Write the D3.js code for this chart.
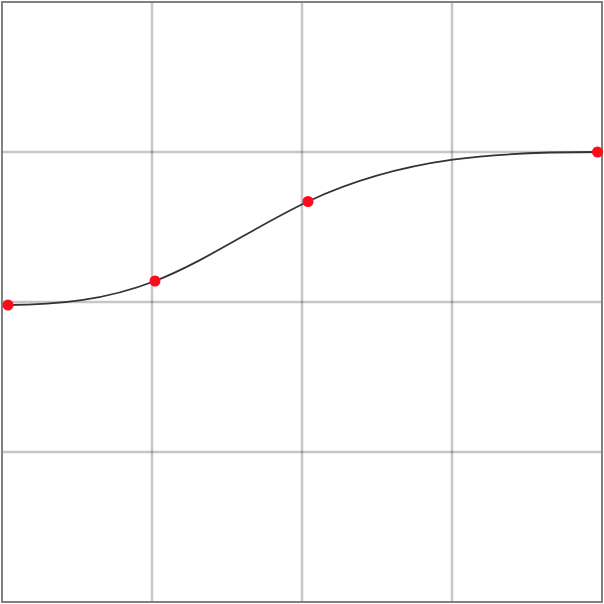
<!DOCTYPE html>
<html>
<head>
<meta charset="utf-8">
<script src="https://cdn.jsdelivr.net/npm/d3@7"></script>
<style>
  html, body { margin: 0; padding: 0; background: #fff; }
  svg { display: block; }
</style>
</head>
<body>
<script>
// Data
const xValues = [0.04, 1.02, 2.04, 3.97];
const yValues = [1.98, 2.14, 2.67, 3.0];
const gridTicks = [1, 2, 3];

const W = 604, H = 604;
const svg = d3.select("body").append("svg").attr("width", W).attr("height", H);

const x = d3.scaleLinear().domain([0, 4]).range([2, 602]);
const y = d3.scaleLinear().domain([0, 4]).range([602, 2]);

// Clamped cubic spline curve (zero end slopes) as a d3 curve factory
function curveClampedSpline(context) {
  let px = [], py = [];
  return {
    areaStart() {}, areaEnd() {},
    lineStart() { px = []; py = []; },
    point(a, b) { px.push(+a); py.push(+b); },
    lineEnd() {
      const n = px.length;
      if (n === 0) return;
      context.moveTo(px[0], py[0]);
      if (n === 1) return;
      const h = [], s = [];
      for (let i = 0; i < n - 1; i++) { h.push(px[i+1] - px[i]); s.push((py[i+1] - py[i]) / h[i]); }
      // tridiagonal system for slopes m, m0 = m[n-1] = 0
      const m = new Array(n).fill(0);
      const k = n - 2;
      if (k > 0) {
        const A = [], B = [], C = [], D = [];
        for (let i = 1; i <= k; i++) {
          A.push(1 / h[i-1]);
          B.push(2 * (1 / h[i-1] + 1 / h[i]));
          C.push(1 / h[i]);
          D.push(3 * (s[i-1] / h[i-1] + s[i] / h[i]));
        }
        for (let i = 1; i < k; i++) {
          const w = A[i] / B[i-1];
          B[i] -= w * C[i-1];
          D[i] -= w * D[i-1];
        }
        const sol = new Array(k);
        sol[k-1] = D[k-1] / B[k-1];
        for (let i = k - 2; i >= 0; i--) sol[i] = (D[i] - C[i] * sol[i+1]) / B[i];
        for (let i = 0; i < k; i++) m[i+1] = sol[i];
      }
      for (let i = 0; i < n - 1; i++) {
        const d = h[i] / 3;
        context.bezierCurveTo(px[i] + d, py[i] + m[i] * d,
                              px[i+1] - d, py[i+1] - m[i+1] * d,
                              px[i+1], py[i+1]);
      }
    }
  };
}

// grid
svg.append("g").selectAll("line").data(gridTicks).join("line")
  .attr("x1", d => x(d)).attr("x2", d => x(d))
  .attr("y1", y(0)).attr("y2", y(4))
  .attr("stroke", "#000").attr("stroke-opacity", 0.22).attr("stroke-width", 2.5);
svg.append("g").selectAll("line").data(gridTicks).join("line")
  .attr("y1", d => y(d)).attr("y2", d => y(d))
  .attr("x1", x(0)).attr("x2", x(4))
  .attr("stroke", "#000").attr("stroke-opacity", 0.22).attr("stroke-width", 2.5);

// border
svg.append("rect")
  .attr("x", x(0)).attr("y", y(4))
  .attr("width", x(4) - x(0)).attr("height", y(0) - y(4))
  .attr("fill", "none").attr("stroke", "#808080").attr("stroke-width", 2);

const pts = xValues.map((v, i) => [v, yValues[i]]);
const line = d3.line().x(d => x(d[0])).y(d => y(d[1])).curve(curveClampedSpline);
svg.append("path").attr("d", line(pts))
  .attr("fill", "none").attr("stroke", "#333").attr("stroke-width", 1.8);

svg.append("g").selectAll("circle").data(pts).join("circle")
  .attr("cx", d => x(d[0])).attr("cy", d => y(d[1])).attr("r", 5.5)
  .attr("fill", "#ff0a1a");
</script>
</body>
</html>
